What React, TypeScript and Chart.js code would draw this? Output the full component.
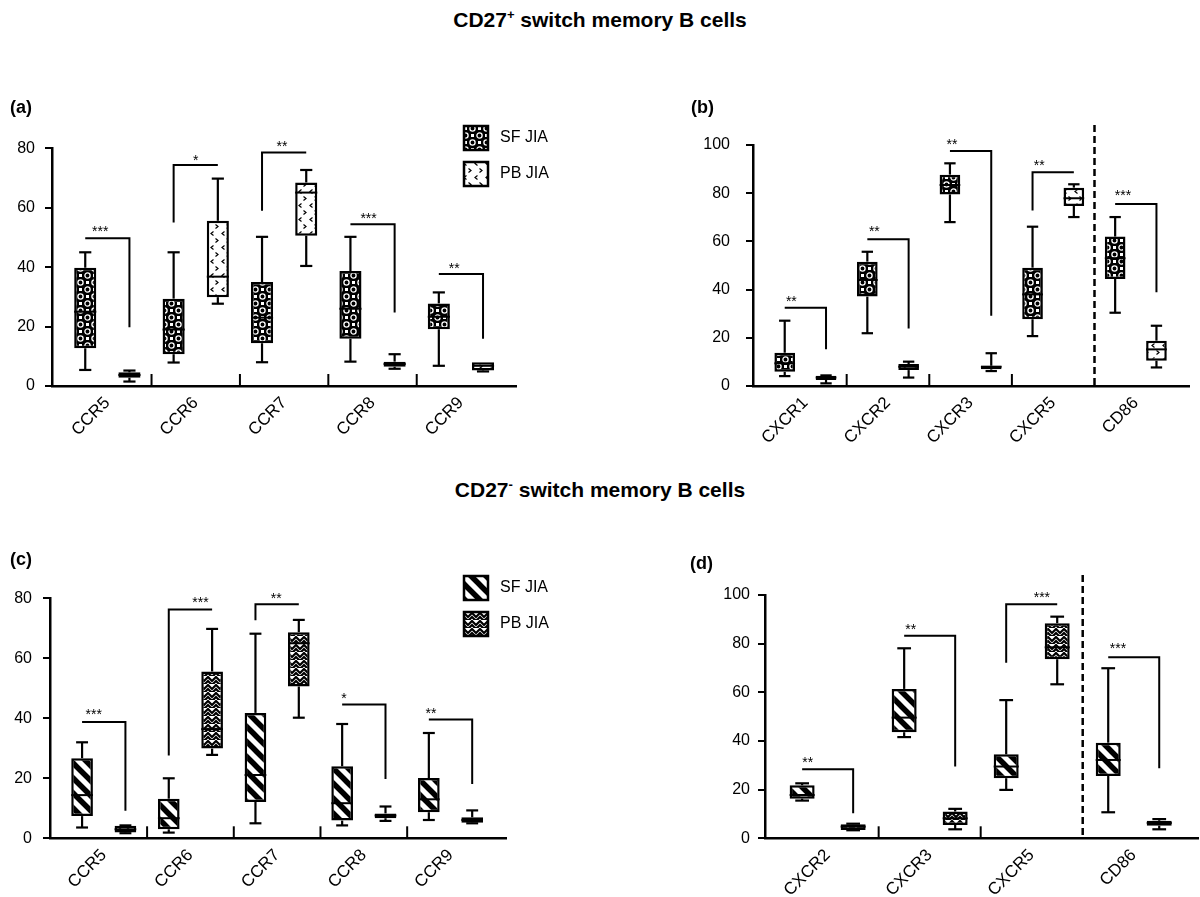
import React, { useEffect, useRef } from "react";
import { Chart, registerables } from "chart.js";

Chart.register(...registerables);

const FONT = '"Liberation Sans", Arial, Helvetica, sans-serif';
const seriesNames = ["SF JIA", "PB JIA"];

// ---------- (a) CD27+ : CCR ----------  box = [min, q1, median, q3, max]
const catsA = ["CCR5", "CCR6", "CCR7", "CCR8", "CCR9"];
const sfA = [
  [5.4, 12.7, 25, 39.8, 45],
  [7.9, 10.7, 19, 29.4, 45],
  [8, 14.4, 23, 35, 50.2],
  [8.2, 15.9, 26, 38.7, 50.2],
  [6.8, 19.1, 23.3, 27.8, 31.5],
];
const pbA = [
  [1.5, 2.8, 3.7, 4.6, 5.2],
  [27.7, 29.9, 36.8, 55.6, 69.8],
  [40.4, 50.6, 65.1, 68.5, 72.7],
  [5.8, 6.5, 7.4, 8.2, 10.7],
  [4.9, 5.2, 6.8, 8, 8],
];
const sigTopA = [49.7, 74.4, 78.6, 54.4, 37.7];
const sigLeftA = [49.7, 55, 59, 54.4, 37.7];
const sigRightA = [19.8, 74.4, 78.6, 24.7, 15.9];
const starsA = ["***", "*", "**", "***", "**"];
const starYA = [53.3, 77.2, 81.7, 57.4, 40.7];
const starAtA = [0.34, 0.5, 0.45, 0.41, 0.35];

// ---------- (b) CD27+ : CXCR / CD86 ----------
const catsB = ["CXCR1", "CXCR2", "CXCR3", "CXCR5", "CD86"];
const sfB = [
  [4.1, 5.9, 9.4, 13.8, 27.1],
  [21.9, 37.1, 44, 51.6, 55.7],
  [68, 79.5, 83.4, 87.7, 92.4],
  [20.7, 27.7, 38, 49.1, 66.1],
  [30.4, 44.4, 53, 62, 70.1],
];
const pbB = [
  [1.1, 2.5, 3.5, 4.3, 4.4],
  [3.5, 6.6, 8, 9.1, 10.1],
  [6.2, 6.9, 8, 8.4, 13.6],
  [70.1, 74.7, 77.9, 82.3, 83.7],
  [7.7, 10.5, 15.2, 18.8, 25],
];
const sigTopB = [32.5, 60.9, 97.5, 88.7, 75.5];
const sigLeftB = [32.5, 60.9, 97.5, 72.8, 75.5];
const sigRightB = [15.2, 23.9, 29.2, 88.7, 38.9];
const starsB = ["**", "**", "**", "**", "***"];
const starYB = [36.4, 65.4, 101.8, 92.9, 80.4];
const starAtB = [0.16, 0.17, 0.05, 0.16, 0.19];

// ---------- (c) CD27- : CCR ----------
const catsC = ["CCR5", "CCR6", "CCR7", "CCR8", "CCR9"];
const sfC = [
  [3.6, 7.4, 14.4, 26.7, 32],
  [1.9, 3, 6.7, 13.2, 20],
  [5, 12.1, 21.1, 41.8, 68.2],
  [4.3, 5.9, 11.7, 24, 38.1],
  [6.1, 8.7, 13, 20.1, 35.1],
];
const pbC = [
  [1.7, 1.9, 3, 4.2, 4.3],
  [27.8, 29.9, 36.4, 55.6, 69.8],
  [40.2, 50.6, 65, 68.7, 72.8],
  [5.8, 6.7, 7.6, 8.3, 10.6],
  [5, 5.2, 6.1, 7, 9.3],
];
const sigTopC = [38.8, 76.3, 78, 44.6, 39.6];
const sigLeftC = [38.8, 27.6, 72.7, 44.6, 39.6];
const sigRightC = [9.2, 76.3, 78, 19.8, 18.1];
const starsC = ["***", "***", "**", "*", "**"];
const starYC = [42.5, 79.7, 81.1, 47.8, 42.8];
const starAtC = [0.27, 0.73, 0.48, 0.04, 0.05];

// ---------- (d) CD27- : CXCR / CD86 ----------
const catsD = ["CXCR2", "CXCR3", "CXCR5", "CD86"];
const sfD = [
  [15.5, 16.3, 17.8, 21.8, 22.6],
  [41.6, 43.6, 49.6, 61.4, 78.1],
  [19.9, 24.7, 29.5, 34.5, 56.8],
  [10.7, 25.6, 32.2, 39.3, 69.9],
];
const pbD = [
  [3.3, 3.4, 4.8, 5.8, 6],
  [3.7, 5.5, 8.2, 11, 12.1],
  [63.3, 73.6, 78.5, 88.4, 91.1],
  [3.7, 5.2, 6.3, 7.2, 7.9],
];
const sigTopD = [28.4, 83.2, 96.2, 74.4];
const sigLeftD = [28.4, 83.2, 72.2, 74.4];
const sigRightD = [10.3, 29.5, 96.2, 28.8];
const starsD = ["**", "**", "***", "***"];
const starYD = [32.5, 87.4, 100.4, 79.5];
const starAtD = [0.11, 0.13, 0.7, 0.19];

const yTicks80 = [0, 20, 40, 60, 80];
const yTicks100 = [0, 20, 40, 60, 80, 100];

const panels = [
  {
    label: "(a)", cats: catsA, sf: sfA, pb: pbA, top: sigTopA, lft: sigLeftA, rgt: sigRightA,
    stars: starsA, starY: starYA, starAt: starAtA, yTicks: yTicks80, style: "ab", legend: true, dashedBefore: -1,
    geo: { left: 0, top: 90, w: 600, h: 380, yAxisW: 52, padTop: 58.3, padRight: 84, xAxisH: 84, xMin: -0.626, xMax: 4.623, yPad: 10, bp: 0.5, lx: 10, ly: 18 },
  },
  {
    label: "(b)", cats: catsB, sf: sfB, pb: pbB, top: sigTopB, lft: sigLeftB, rgt: sigRightB,
    stars: starsB, starY: starYB, starAt: starAtB, yTicks: yTicks100, style: "ab", legend: false, dashedBefore: 4,
    geo: { left: 600, top: 90, w: 600, h: 380, yAxisW: 153, padTop: 55, padRight: 11, xAxisH: 84, xMin: -0.634, xMax: 4.644, yPad: 16, bp: 0.5, lx: 91, ly: 18 },
  },
  {
    label: "(c)", cats: catsC, sf: sfC, pb: pbC, top: sigTopC, lft: sigLeftC, rgt: sigRightC,
    stars: starsC, starY: starYC, starAt: starAtC, yTicks: yTicks80, style: "cd", legend: true, dashedBefore: -1,
    geo: { left: 0, top: 540, w: 600, h: 357, yAxisW: 50, padTop: 58.3, padRight: 94, xAxisH: 58.7, xMin: -0.62, xMax: 4.64, yPad: 11, bp: 0.5, lx: 10, ly: 20 },
  },
  {
    label: "(d)", cats: catsD, sf: sfD, pb: pbD, top: sigTopD, lft: sigLeftD, rgt: sigRightD,
    stars: starsD, starY: starYD, starAt: starAtD, yTicks: yTicks100, style: "cd", legend: false, dashedBefore: 3,
    geo: { left: 600, top: 540, w: 600, h: 357, yAxisW: 165, padTop: 55, padRight: 2, xAxisH: 58.7, xMin: -0.614, xMax: 3.63, yPad: 8, bp: 0.49, lx: 90, ly: 24 },
  },
];

function makePattern(kind: string): any {
  const c = document.createElement("canvas");
  const g = c.getContext("2d");
  if (!g) return "#777";
  if (kind === "dots") {
    const s = 14;
    c.width = s; c.height = s;
    g.fillStyle = "#000"; g.fillRect(0, 0, s, s);
    g.strokeStyle = "#fff"; g.lineWidth = 1.3;
    for (const [cx, cy] of [[3.5, 3.5], [10.5, 10.5]]) {
      g.beginPath(); g.arc(cx, cy, 2.6, 0, Math.PI * 2); g.stroke();
    }
    g.fillStyle = "#fff";
    g.fillRect(9, 2, 3, 3);
    g.fillRect(2, 9, 3, 3);
  } else if (kind === "chev") {
    c.width = 11; c.height = 14;
    g.fillStyle = "#fff"; g.fillRect(0, 0, 11, 14);
    g.strokeStyle = "#000"; g.lineWidth = 1.2;
    g.beginPath();
    g.moveTo(4.5, 1.5); g.lineTo(2, 3.5); g.lineTo(4.5, 5.5);
    g.moveTo(6.5, 8.5); g.lineTo(9, 10.5); g.lineTo(6.5, 12.5);
    g.stroke();
  } else if (kind === "stripes") {
    const s = 15;
    c.width = s; c.height = s;
    g.fillStyle = "#fff"; g.fillRect(0, 0, s, s);
    g.strokeStyle = "#000"; g.lineWidth = 5.5;
    g.beginPath();
    for (const o of [-s, 0, s]) { g.moveTo(o - 3, -3); g.lineTo(o + s + 3, s + 3); }
    g.stroke();
  } else {
    const s = 8;
    c.width = s; c.height = s;
    g.fillStyle = "#fff"; g.fillRect(0, 0, s, s);
    g.strokeStyle = "#000"; g.lineWidth = 2.2;
    g.beginPath();
    g.moveTo(-1, 0); g.lineTo(4, 5); g.lineTo(9, 0);
    g.moveTo(-1, 4); g.lineTo(4, 9); g.lineTo(9, 4);
    g.stroke();
  }
  return g.createPattern(c, "repeat");
}

function extras(cfg: any, pats: any[]) {
  return {
    id: "boxExtras",
    afterDatasetsDraw(chart: any) {
      const ctx = chart.ctx;
      const ys = chart.scales.y;
      const xs = chart.scales.x;
      const area = chart.chartArea;
      const py = (v: number) => ys.getPixelForValue(v);
      const series = [cfg.sf, cfg.pb];
      const metas = [chart.getDatasetMeta(0), chart.getDatasetMeta(1)];
      const line = (x1: number, y1: number, x2: number, y2: number) => {
        ctx.beginPath(); ctx.moveTo(x1, y1); ctx.lineTo(x2, y2); ctx.stroke();
      };
      ctx.save();
      ctx.strokeStyle = "#000";
      ctx.fillStyle = "#000";
      ctx.lineCap = "butt";
      // whiskers + medians
      metas.forEach((meta: any, si: number) => {
        meta.data.forEach((bar: any, j: number) => {
          const [mn, q1, md, q3, mx] = series[si][j];
          const cx = bar.x;
          const w = bar.width;
          const cap = w * 0.55;
          ctx.lineWidth = 2.2;
          if (mx > q3) {
            line(cx, py(q3), cx, py(mx));
            line(cx - cap / 2, py(mx), cx + cap / 2, py(mx));
          }
          if (mn < q1) {
            line(cx, py(q1), cx, py(mn));
            line(cx - cap / 2, py(mn), cx + cap / 2, py(mn));
          }
          ctx.lineWidth = 2;
          line(cx - w / 2, py(md), cx + w / 2, py(md));
        });
      });
      // significance brackets
      ctx.lineWidth = 2;
      cfg.cats.forEach((_: string, j: number) => {
        const x1 = metas[0].data[j].x;
        const x2 = metas[1].data[j].x;
        const t = py(cfg.top[j]);
        ctx.beginPath();
        if (cfg.lft[j] < cfg.top[j]) { ctx.moveTo(x1, py(cfg.lft[j])); ctx.lineTo(x1, t); }
        else ctx.moveTo(x1, t);
        ctx.lineTo(x2, t);
        if (cfg.rgt[j] < cfg.top[j]) ctx.lineTo(x2, py(cfg.rgt[j]));
        ctx.stroke();
        ctx.font = `14px ${FONT}`;
        ctx.textAlign = "center";
        ctx.textBaseline = "alphabetic";
        ctx.fillText(cfg.stars[j], x1 + (x2 - x1) * cfg.starAt[j], py(cfg.starY[j]) + 8);
      });
      // category separators
      for (let j = 0; j < cfg.cats.length - 1; j++) {
        const sx = xs.getPixelForValue(j + 0.5);
        if (j + 1 === cfg.dashedBefore) {
          ctx.save();
          ctx.lineWidth = 2.5;
          ctx.setLineDash([7, 4]);
          line(sx, area.top - 20, sx, area.bottom);
          ctx.restore();
        } else {
          ctx.lineWidth = 2;
          line(sx, area.bottom, sx, area.bottom - 12);
        }
      }
      // panel label
      ctx.font = `bold 18px ${FONT}`;
      ctx.textAlign = "left";
      ctx.textBaseline = "middle";
      ctx.fillText(cfg.label, cfg.geo.lx, cfg.geo.ly);
      // legend
      if (cfg.legend) {
        seriesNames.forEach((name, i) => {
          const bx = 464;
          const by = 36 + i * 36;
          ctx.fillStyle = pats[i];
          ctx.fillRect(bx, by, 24, 24);
          ctx.lineWidth = 2.5;
          ctx.strokeRect(bx, by, 24, 24);
          ctx.fillStyle = "#000";
          ctx.font = `16px ${FONT}`;
          ctx.textAlign = "left";
          ctx.textBaseline = "middle";
          ctx.fillText(name, 500, by + 12);
        });
      }
      ctx.restore();
    },
  };
}

function Panel({ cfg }: any) {
  const ref = useRef<HTMLCanvasElement>(null);
  useEffect(() => {
    const canvas = ref.current;
    if (!canvas) return;
    const g = cfg.geo;
    const pats = cfg.style === "ab" ? [makePattern("dots"), makePattern("chev")] : [makePattern("stripes"), makePattern("weave")];
    const yMax = cfg.yTicks[cfg.yTicks.length - 1];
    const chart = new Chart(canvas, {
      type: "bar",
      data: {
        datasets: [cfg.sf, cfg.pb].map((ser: number[][], si: number) => ({
          label: seriesNames[si],
          data: cfg.cats.map((_: string, i: number) => ({ x: i, y: [ser[i][1], ser[i][3]] })),
          backgroundColor: pats[si],
          borderColor: "#000",
          borderWidth: 2.5,
          borderSkipped: false,
          categoryPercentage: 1,
          barPercentage: g.bp,
        })),
      } as any,
      options: {
        animation: false,
        responsive: false,
        maintainAspectRatio: false,
        layout: { padding: { left: 0, top: g.padTop, right: g.padRight, bottom: 0 } },
        plugins: { legend: { display: false }, tooltip: { enabled: false }, title: { display: false } },
        scales: {
          x: {
            type: "linear",
            min: g.xMin,
            max: g.xMax,
            offset: false,
            grid: { display: false, drawTicks: false },
            border: { display: true, color: "#000", width: 2.5 },
            afterBuildTicks: (s: any) => { s.ticks = cfg.cats.map((_: string, i: number) => ({ value: i })); },
            afterFit: (s: any) => { s.height = g.xAxisH; },
            ticks: {
              autoSkip: false,
              maxRotation: 45,
              minRotation: 45,
              padding: 7,
              color: "#000",
              font: { size: 17, family: FONT },
              callback: (_v: any, i: number) => cfg.cats[i],
            },
          },
          y: {
            type: "linear",
            min: 0,
            max: yMax,
            grid: { drawOnChartArea: false, drawTicks: true, tickLength: 7, color: "#000", lineWidth: 2 },
            border: { display: true, color: "#000", width: 2.5 },
            afterBuildTicks: (s: any) => { s.ticks = cfg.yTicks.map((v: number) => ({ value: v })); },
            afterFit: (s: any) => { s.width = g.yAxisW; },
            ticks: { color: "#000", padding: g.yPad, font: { size: 16, family: FONT } },
          },
        },
      } as any,
      plugins: [extras(cfg, pats)],
    });
    return () => chart.destroy();
  }, []);
  const g = cfg.geo;
  return (
    <canvas
      ref={ref}
      width={g.w}
      height={g.h}
      style={{ position: "absolute", left: g.left, top: g.top, width: g.w, height: g.h }}
    />
  );
}

const titleStyle: any = {
  position: "absolute",
  left: 0,
  width: 1200,
  textAlign: "center",
  fontFamily: FONT,
  fontWeight: "bold",
  fontSize: 21,
  lineHeight: "26px",
  color: "#000",
  whiteSpace: "nowrap",
};
const supStyle: any = { fontSize: 13, verticalAlign: "8px", lineHeight: 0 };

export default function App() {
  return (
    <div style={{ position: "absolute", left: 0, top: 0, width: 1200, height: 897, background: "#fff", overflow: "hidden" }}>
      <div style={{ ...titleStyle, top: 7 }}>
        CD27<span style={supStyle}>+</span> switch memory B cells
      </div>
      <div style={{ ...titleStyle, top: 477 }}>
        CD27<span style={supStyle}>-</span> switch memory B cells
      </div>
      {panels.map((p) => (
        <Panel key={p.label} cfg={p} />
      ))}
    </div>
  );
}
